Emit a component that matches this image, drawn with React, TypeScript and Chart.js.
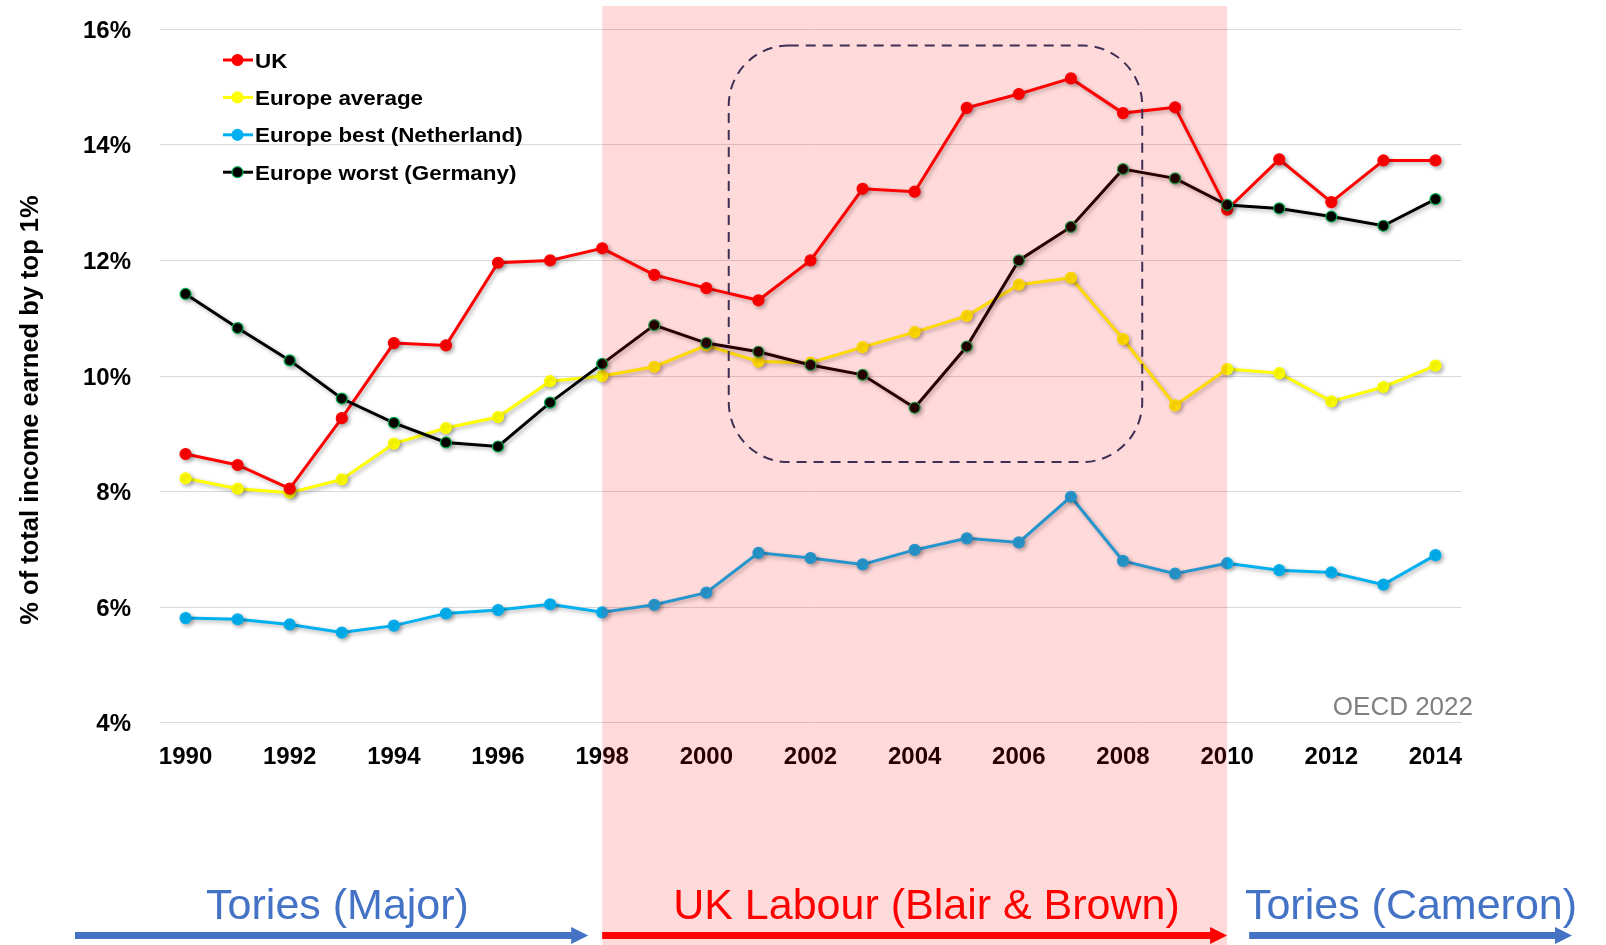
import React, { useEffect, useRef } from 'react';
import { Chart, registerables } from 'chart.js';

Chart.register(...registerables);

// ---------- data ----------
const years = [
  '1990', '1991', '1992', '1993', '1994', '1995', '1996', '1997', '1998', '1999',
  '2000', '2001', '2002', '2003', '2004', '2005', '2006', '2007', '2008', '2009',
  '2010', '2011', '2012', '2013', '2014',
];
const xTickYears = ['1990', '1992', '1994', '1996', '1998', '2000', '2002', '2004', '2006', '2008', '2010', '2012', '2014'];
const yTickValues = [4, 6, 8, 10, 12, 14, 16];

const ukValues = [
  8.65, 8.46, 8.05, 9.27, 10.57, 10.53, 11.96, 12.0, 12.21, 11.75,
  11.52, 11.31, 12.0, 13.24, 13.19, 14.64, 14.88, 15.15, 14.55, 14.65,
  12.88, 13.75, 13.01, 13.73, 13.73,
];
const europeAvgValues = [
  8.23, 8.05, 7.98, 8.21, 8.83, 9.1, 9.29, 9.91, 10.0, 10.16,
  10.53, 10.25, 10.23, 10.5, 10.76, 11.04, 11.58, 11.7, 10.64, 9.49,
  10.12, 10.05, 9.56, 9.81, 10.18,
];
const netherlandsValues = [
  5.81, 5.79, 5.7, 5.56, 5.68, 5.89, 5.95, 6.05, 5.91, 6.04,
  6.25, 6.94, 6.85, 6.74, 6.99, 7.19, 7.12, 7.91, 6.8, 6.58,
  6.76, 6.64, 6.6, 6.39, 6.9,
];
const germanyValues = [
  11.42, 10.83, 10.27, 9.61, 9.19, 8.85, 8.78, 9.54, 10.21, 10.88,
  10.57, 10.42, 10.19, 10.02, 9.45, 10.51, 12.0, 12.58, 13.58, 13.42,
  12.96, 12.9, 12.76, 12.6, 13.06,
];

const seriesNames = ['UK', 'Europe average', 'Europe best (Netherland)', 'Europe worst (Germany)'];
const seriesColors = ['#FF0000', '#FFFF00', '#00B0F0', '#000000'];
const seriesPointBorders = ['#FF0000', '#FFFF00', '#00B0F0', '#00B050'];

const labourPeriod = ['1998', '2010'];
const highlightBoxYears = [2000.43, 2008.37];
const highlightBoxRange = [8.51, 15.72];

const periodLabels = ['Tories (Major)', 'UK Labour (Blair & Brown)', 'Tories (Cameron)'];
const periodColors = ['#4472C4', '#FF0000', '#4472C4'];

const yAxisTitle = '% of total income earned by top 1%';
const sourceNote = 'OECD 2022';

// ---------- styling ----------
const FONT = "'Liberation Sans', Arial, Helvetica, sans-serif";
const TARGET_AREA = { top: 29.3, bottom: 722.7 };

function roundedRect(ctx: CanvasRenderingContext2D, x1: number, y1: number, x2: number, y2: number, r: number) {
  ctx.beginPath();
  ctx.moveTo(x1 + r, y1);
  ctx.lineTo(x2 - r, y1);
  ctx.arcTo(x2, y1, x2, y1 + r, r);
  ctx.lineTo(x2, y2 - r);
  ctx.arcTo(x2, y2, x2 - r, y2, r);
  ctx.lineTo(x1 + r, y2);
  ctx.arcTo(x1, y2, x1, y2 - r, r);
  ctx.lineTo(x1, y1 + r);
  ctx.arcTo(x1, y1, x1 + r, y1, r);
  ctx.closePath();
}

function arrow(ctx: CanvasRenderingContext2D, xStart: number, xTip: number, yc: number, color: string) {
  const thick = 7;
  const headLen = 17;
  const headHalf = 8.5;
  ctx.fillStyle = color;
  ctx.fillRect(xStart, yc - thick / 2, xTip - headLen - xStart + 1, thick);
  ctx.beginPath();
  ctx.moveTo(xTip - headLen, yc - headHalf);
  ctx.lineTo(xTip, yc);
  ctx.lineTo(xTip - headLen, yc + headHalf);
  ctx.closePath();
  ctx.fill();
}

const decorPlugin = {
  id: 'decor',
  beforeDatasetsDraw(chart: any) {
    const ctx = chart.ctx;
    ctx.save();
    ctx.shadowColor = 'rgba(0,0,0,0.3)';
    ctx.shadowBlur = 4;
    ctx.shadowOffsetX = 2;
    ctx.shadowOffsetY = 2;
  },
  afterDatasetsDraw(chart: any) {
    chart.ctx.restore();
  },
  afterDraw(chart: any) {
    const { ctx, chartArea, scales } = chart;
    const xs = scales.x;
    const ys = scales.y;
    const baseYear = Number(years[0]);
    const W = chart.width;
    const H = chart.height;

    // dashed highlight box
    ctx.save();
    const bx1 = xs.getPixelForValue(highlightBoxYears[0] - baseYear);
    const bx2 = xs.getPixelForValue(highlightBoxYears[1] - baseYear);
    const by1 = ys.getPixelForValue(highlightBoxRange[1]);
    const by2 = ys.getPixelForValue(highlightBoxRange[0]);
    ctx.strokeStyle = '#203864';
    ctx.lineWidth = 2;
    ctx.setLineDash([10, 7]);
    roundedRect(ctx, bx1, by1, bx2, by2, 60);
    ctx.stroke();
    ctx.restore();

    // legend
    ctx.save();
    const lx = chartArea.left + 63.5;
    seriesNames.forEach((name, i) => {
      const ry = chartArea.top + 30.7 + i * 37.4;
      ctx.strokeStyle = seriesColors[i];
      ctx.lineWidth = 3;
      ctx.beginPath();
      ctx.moveTo(lx, ry);
      ctx.lineTo(lx + 30, ry);
      ctx.stroke();
      ctx.beginPath();
      ctx.arc(lx + 14.5, ry, 5.5, 0, Math.PI * 2);
      ctx.fillStyle = seriesColors[i];
      ctx.fill();
      ctx.lineWidth = 1.2;
      ctx.strokeStyle = seriesPointBorders[i];
      ctx.stroke();
      ctx.save();
      ctx.translate(lx + 32, ry + 2);
      ctx.scale(1.12, 1);
      ctx.fillStyle = '#000';
      ctx.font = `bold 20px ${FONT}`;
      ctx.textAlign = 'left';
      ctx.textBaseline = 'middle';
      ctx.fillText(name, 0, 0);
      ctx.restore();
    });
    ctx.restore();

    // y axis title
    ctx.save();
    ctx.translate(31, 410);
    ctx.rotate(-Math.PI / 2);
    ctx.fillStyle = '#000';
    ctx.font = `bold 25.5px ${FONT}`;
    ctx.textAlign = 'center';
    ctx.textBaseline = 'middle';
    ctx.fillText(yAxisTitle, 0, 0);
    ctx.restore();

    // source note
    ctx.save();
    ctx.fillStyle = '#808080';
    ctx.font = `26px ${FONT}`;
    ctx.textAlign = 'right';
    ctx.textBaseline = 'alphabetic';
    ctx.fillText(sourceNote, chartArea.right + 11.5, chartArea.bottom - 7.7);
    ctx.restore();

    // period labels + arrows
    const pinkX1 = xs.getPixelForValue(years.indexOf(labourPeriod[0]));
    const pinkX2 = xs.getPixelForValue(years.indexOf(labourPeriod[1]));
    const arrowY = 935.5;
    const arrowSpans = [
      [75, pinkX1 - 14],
      [pinkX1, pinkX2],
      [pinkX2 + 22, W - 34],
    ];
    const labelCenters = [337.5, 926.5, 1411];
    ctx.save();
    ctx.font = `43px ${FONT}`;
    ctx.textAlign = 'center';
    ctx.textBaseline = 'alphabetic';
    periodLabels.forEach((label, i) => {
      ctx.fillStyle = periodColors[i];
      ctx.fillText(label, labelCenters[i], 919);
      arrow(ctx, arrowSpans[i][0], arrowSpans[i][1], arrowY, periodColors[i]);
    });
    ctx.restore();

    // translucent Labour-era overlay
    ctx.save();
    ctx.fillStyle = 'rgba(255,0,0,0.145)';
    ctx.fillRect(pinkX1, 6, pinkX2 - pinkX1, H - 6);
    ctx.restore();
  },
};

function makeDataset(label: string, data: number[], i: number, order: number) {
  return {
    label,
    data,
    borderColor: seriesColors[i],
    backgroundColor: seriesColors[i],
    pointBackgroundColor: seriesColors[i],
    pointBorderColor: seriesPointBorders[i],
    pointBorderWidth: 1.2,
    pointRadius: 5.5,
    borderWidth: 3,
    tension: 0,
    order,
  };
}

export default function App() {
  const canvasRef = useRef<HTMLCanvasElement | null>(null);

  useEffect(() => {
    if (!canvasRef.current) return;
    const chart = new Chart(canvasRef.current, {
      type: 'line',
      data: {
        labels: years,
        datasets: [
          makeDataset(seriesNames[3], germanyValues, 3, 0),
          makeDataset(seriesNames[0], ukValues, 0, 1),
          makeDataset(seriesNames[1], europeAvgValues, 1, 2),
          makeDataset(seriesNames[2], netherlandsValues, 2, 3),
        ],
      },
      options: {
        animation: false,
        responsive: false,
        maintainAspectRatio: false,
        devicePixelRatio: 1,
        events: [],
        layout: { padding: { top: 29.3, right: 144.5, bottom: 162.3, left: 0 } },
        plugins: {
          legend: { display: false },
          tooltip: { enabled: false },
          title: { display: false },
        },
        scales: {
          x: {
            type: 'category',
            offset: true,
            grid: { display: false, drawTicks: false },
            border: { display: false },
            afterFit: (scale: any) => {
              scale.height = 60;
            },
            ticks: {
              autoSkip: false,
              maxRotation: 0,
              minRotation: 0,
              padding: 20.5,
              color: '#000',
              font: { family: FONT, size: 24, weight: 'bold' },
              callback: (_v: any, idx: number) => (xTickYears.includes(years[idx]) ? years[idx] : ''),
            },
          },
          y: {
            type: 'linear',
            min: 4,
            max: 16,
            afterFit: (scale: any) => {
              scale.width = 159.5;
            },
            afterBuildTicks: (scale: any) => {
              scale.ticks = yTickValues.map((v) => ({ value: v }));
            },
            grid: { color: '#D9D9D9', lineWidth: 1, drawTicks: false },
            border: { display: false },
            ticks: {
              padding: 28.5,
              labelOffset: 2,
              color: '#000',
              font: { family: FONT, size: 24, weight: 'bold', lineHeight: 0.05 },
              callback: (v: any) => `${v}%`,
            },
          },
        },
      },
      plugins: [decorPlugin],
    } as any);

    // settle the plot area onto the target frame
    for (let k = 0; k < 4; k++) {
      const ca = chart.chartArea;
      const pad = (chart.options as any).layout.padding;
      const dTop = TARGET_AREA.top - ca.top;
      const dBottom = ca.bottom - TARGET_AREA.bottom;
      if (Math.abs(dTop) < 0.05 && Math.abs(dBottom) < 0.05) break;
      pad.top = Math.max(0, pad.top + dTop);
      pad.bottom = Math.max(0, pad.bottom + dBottom);
      chart.update();
    }

    return () => chart.destroy();
  }, []);

  return (
    <div style={{ position: 'fixed', left: 0, top: 0, width: 1606, height: 945, background: '#fff' }}>
      <canvas ref={canvasRef} width={1606} height={945} style={{ display: 'block' }} />
    </div>
  );
}
